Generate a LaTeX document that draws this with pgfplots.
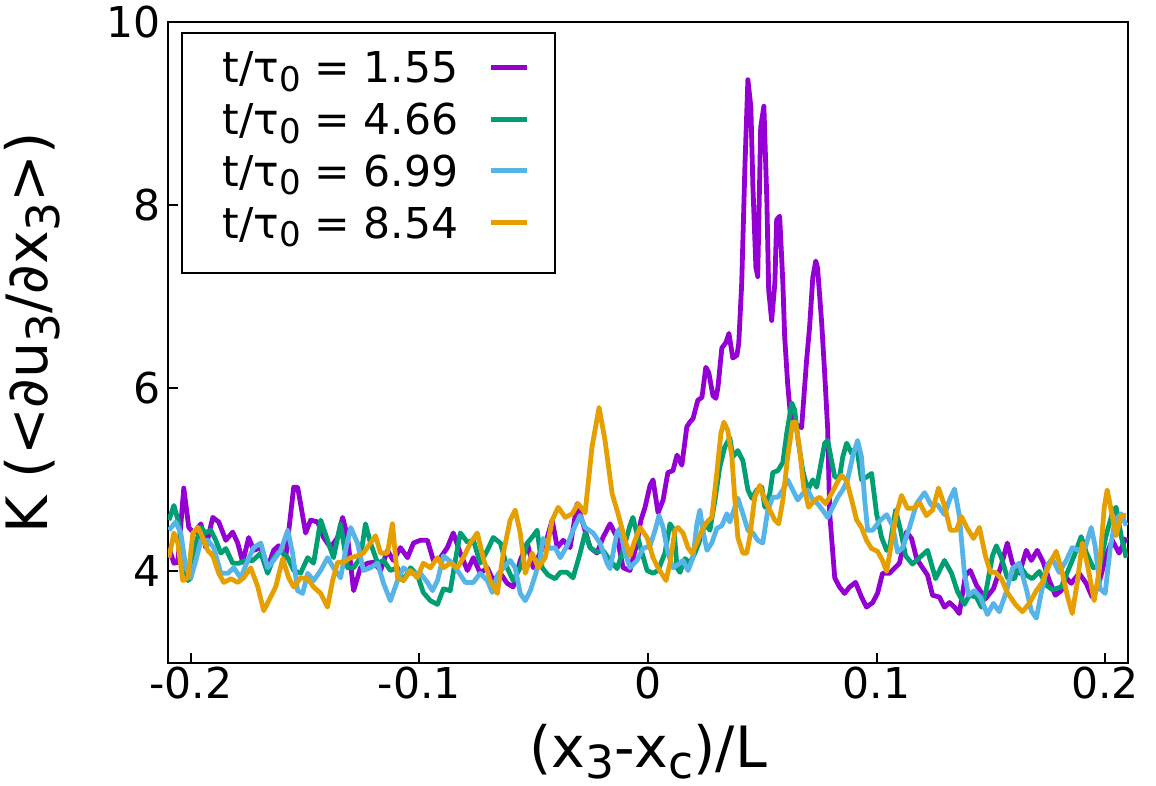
\documentclass[border=0pt]{standalone}
\usepackage{fontspec}
\setmainfont{DejaVu Sans}
\usepackage{pgfplots}
\pgfplotsset{compat=1.18}
\definecolor{cP}{HTML}{9400D3}
\definecolor{cG}{HTML}{009E73}
\definecolor{cB}{HTML}{56B4E9}
\definecolor{cO}{HTML}{E69F00}
\newcommand{\sub}[1]{\raisebox{-0.2em}{\scalebox{0.8}{#1}}}
\begin{document}
\begin{tikzpicture}
\useasboundingbox (0,0) rectangle (578pt,393pt);
\begin{axis}[
  at={(84pt,61.5pt)}, anchor=south west,
  scale only axis, width=480pt, height=320.5pt,
  xmin=-0.21, xmax=0.21, ymin=3, ymax=10,
  xtick={-0.2,-0.1,0,0.1,0.2},
  xticklabels={-0.2,-0.1,0,0.1,0.2},
  ytick={4,6,8,10},
  yticklabels={4,6,8,10},
  tick align=inside, tick pos=left,
  major tick length=5pt,
  every tick/.style={black, line width=1pt},
  axis line style={line width=1pt},
  ticklabel style={font=\fontsize{21.25pt}{25pt}\selectfont},
  xticklabel style={yshift=1.5pt},
  label style={font=\fontsize{28.5pt}{34pt}\selectfont},
  xlabel={(x\sub{3}-x\sub{c})/L},
  ylabel={K (<∂u\sub{3}/∂x\sub{3}>)},
  xlabel style={at={(axis description cs:0.5,-0.1625)}, anchor=base},
  ylabel style={at={(axis description cs:-0.125,0.515)}, anchor=base, rotate=0},
  legend plot pos=right,
  legend cell align=right,
  legend image code/.code={\draw[#1] (0pt,4pt) -- (18pt,4pt);},
  legend style={at={(axis description cs:0,1)}, anchor=north west,
    xshift=6.5pt, yshift=-5pt, draw=black, line width=1pt,
    inner xsep=13pt, inner ysep=8.3pt, row sep=0pt, column sep=15pt,
    font=\fontsize{21.25pt}{25pt}\selectfont,
    nodes={inner sep=0pt, text height=16.7pt, text depth=9.15pt}},
  every axis plot/.append style={line width=2.4pt, line join=round},
]
\addplot[cP] coordinates {
(-0.2096,4.26)(-0.2074,4.09)(-0.2057,4.10)(-0.2031,4.91)(-0.2009,4.48)(-0.1987,4.42)(-0.1956,4.52)(-0.1935,4.26)(-0.1904,4.59)(-0.1878,4.54)
(-0.1847,4.34)(-0.1817,4.43)(-0.1795,4.31)(-0.1773,4.10)(-0.1747,4.37)(-0.1725,4.23)(-0.1694,4.26)(-0.1664,4.04)(-0.1638,4.23)(-0.1616,4.28)
(-0.1585,4.15)(-0.1550,4.92)(-0.1533,4.92)(-0.1520,4.74)(-0.1498,4.42)(-0.1476,4.56)(-0.1445,4.54)(-0.1419,4.37)(-0.1389,4.26)(-0.1358,4.37)
(-0.1336,4.59)(-0.1314,4.37)(-0.1288,3.79)(-0.1258,4.04)(-0.1227,4.09)(-0.1201,4.10)(-0.1170,4.01)(-0.1140,4.23)(-0.1114,4.12)(-0.1083,4.26)
(-0.1052,4.15)(-0.1026,4.31)(-0.0996,4.34)(-0.0965,4.34)(-0.0939,4.12)(-0.0908,4.15)(-0.0878,4.26)(-0.0852,4.42)(-0.0821,4.20)(-0.0790,4.01)
(-0.0764,4.15)(-0.0734,3.98)(-0.0703,4.04)(-0.0677,3.90)(-0.0646,3.98)(-0.0616,3.87)(-0.0590,3.83)(-0.0559,4.12)(-0.0528,4.31)(-0.0502,4.04)
(-0.0472,4.20)(-0.0441,4.37)(-0.0419,4.56)(-0.0397,4.26)(-0.0371,4.34)(-0.0341,4.26)(-0.0310,4.74)(-0.0284,4.52)(-0.0253,4.26)(-0.0223,4.20)
(-0.0197,4.37)(-0.0166,4.52)(-0.0135,4.37)(-0.0109,4.04)(-0.0079,4.01)(-0.0048,4.31)(-0.0031,4.56)(-0.0013,4.70)(0.0009,4.94)(0.0022,5.00)
(0.0044,4.64)(0.0066,4.78)(0.0087,5.08)(0.0109,5.10)(0.0127,5.27)(0.0148,5.16)(0.0170,5.58)(0.0183,5.63)(0.0197,5.67)(0.0218,5.87)
(0.0236,5.90)(0.0253,6.23)(0.0266,6.17)(0.0284,5.92)(0.0297,5.89)(0.0306,6.01)(0.0323,6.44)(0.0341,6.50)(0.0354,6.60)(0.0371,6.33)
(0.0389,6.36)(0.0397,6.49)(0.0410,7.15)(0.0424,8.42)(0.0437,9.37)(0.0450,9.07)(0.0459,8.20)(0.0472,7.32)(0.0480,7.22)(0.0493,8.85)
(0.0507,9.08)(0.0520,8.05)(0.0528,7.07)(0.0541,6.74)(0.0555,7.15)(0.0563,7.84)(0.0576,7.88)(0.0590,7.15)(0.0598,6.56)(0.0611,6.05)
(0.0624,5.68)(0.0651,5.60)(0.0672,5.57)(0.0694,6.31)(0.0707,6.67)(0.0721,7.21)(0.0734,7.39)(0.0742,7.31)(0.0760,6.71)(0.0773,6.16)
(0.0786,5.56)(0.0795,4.63)(0.0817,3.93)(0.0838,3.83)(0.0860,3.76)(0.0882,3.83)(0.0908,3.88)(0.0934,3.72)(0.0956,3.61)(0.0983,3.66)
(0.1004,3.76)(0.1026,3.98)(0.1057,3.98)(0.1100,4.09)(0.1131,4.43)(0.1153,4.36)(0.1175,4.14)(0.1201,4.04)(0.1223,3.96)(0.1245,3.74)
(0.1275,3.72)(0.1297,3.61)(0.1319,3.66)(0.1341,3.61)(0.1362,3.54)(0.1389,3.96)(0.1410,4.01)(0.1437,3.85)(0.1476,3.70)(0.1511,3.81)
(0.1546,4.07)(0.1572,4.31)(0.1594,4.09)(0.1625,3.98)(0.1655,4.23)(0.1677,4.12)(0.1703,4.23)(0.1729,4.10)(0.1756,3.90)(0.1782,3.74)
(0.1808,3.79)(0.1830,3.93)(0.1852,3.87)(0.1886,3.98)(0.1917,3.87)(0.1943,3.72)(0.1969,3.83)(0.2004,4.17)(0.2031,4.34)(0.2061,4.20)
(0.2092,4.37)
};
\addlegendentry{\hspace*{7.5pt}t/τ\sub{0} = 1.55}
\addplot[cG] coordinates {
(-0.2096,4.56)(-0.2074,4.72)(-0.2052,4.52)(-0.2031,4.12)(-0.2013,3.90)(-0.2000,3.93)(-0.1978,4.31)(-0.1956,4.48)(-0.1935,4.42)(-0.1913,4.45)
(-0.1891,4.34)(-0.1869,4.20)(-0.1847,4.25)(-0.1817,4.09)(-0.1790,4.09)(-0.1760,4.12)(-0.1729,4.12)(-0.1694,4.20)(-0.1664,3.98)(-0.1638,4.15)
(-0.1607,4.23)(-0.1576,4.15)(-0.1550,4.01)(-0.1520,3.98)(-0.1489,4.15)(-0.1463,4.09)(-0.1432,4.56)(-0.1402,4.34)(-0.1376,4.15)(-0.1345,4.52)
(-0.1314,4.04)(-0.1288,4.04)(-0.1258,4.15)(-0.1236,4.52)(-0.1214,4.31)(-0.1183,4.09)(-0.1157,4.12)(-0.1127,4.01)(-0.1096,4.04)(-0.1070,3.90)
(-0.1039,4.04)(-0.1009,3.96)(-0.0983,3.77)(-0.0952,3.68)(-0.0921,3.64)(-0.0895,3.81)(-0.0865,3.79)(-0.0843,4.12)(-0.0821,4.42)(-0.0790,4.32)
(-0.0764,4.34)(-0.0734,4.09)(-0.0703,4.23)(-0.0677,4.37)(-0.0646,4.31)(-0.0616,4.04)(-0.0590,3.90)(-0.0559,4.04)(-0.0528,4.31)(-0.0502,4.39)
(-0.0485,4.45)(-0.0463,4.04)(-0.0437,3.96)(-0.0406,3.92)(-0.0384,3.99)(-0.0354,3.99)(-0.0328,3.93)(-0.0297,4.20)(-0.0275,4.42)(-0.0253,4.26)
(-0.0223,4.21)(-0.0197,4.23)(-0.0166,4.12)(-0.0135,4.03)(-0.0109,4.23)(-0.0079,4.50)(-0.0066,4.59)(-0.0035,4.28)(-0.0004,4.01)(0.0022,3.98)
(0.0044,4.01)(0.0074,4.20)(0.0096,4.52)(0.0114,4.45)(0.0127,4.04)(0.0140,3.99)(0.0162,4.14)(0.0183,4.09)(0.0205,4.20)(0.0227,4.34)
(0.0249,4.52)(0.0271,4.45)(0.0293,4.78)(0.0314,5.14)(0.0336,5.36)(0.0358,5.46)(0.0371,5.25)(0.0393,5.32)(0.0415,5.21)(0.0437,4.89)
(0.0454,4.80)(0.0476,4.89)(0.0498,4.92)(0.0511,4.70)(0.0533,4.85)(0.0546,5.08)(0.0568,5.10)(0.0590,5.19)(0.0607,5.51)(0.0629,5.84)
(0.0642,5.76)(0.0655,5.46)(0.0677,5.10)(0.0699,4.89)(0.0721,5.00)(0.0738,4.92)(0.0751,5.10)(0.0773,5.40)(0.0786,5.43)(0.0803,5.21)
(0.0817,5.03)(0.0838,5.03)(0.0852,5.25)(0.0869,5.40)(0.0891,5.29)(0.0913,5.36)(0.0934,5.00)(0.0956,5.03)(0.0978,5.07)(0.1000,4.63)
(0.1022,4.37)(0.1044,4.23)(0.1057,4.26)(0.1083,4.67)(0.1105,4.45)(0.1127,4.17)(0.1157,4.08)(0.1188,4.15)(0.1223,4.23)(0.1258,3.92)
(0.1297,4.12)(0.1328,3.98)(0.1354,3.78)(0.1384,3.64)(0.1406,3.74)(0.1437,3.72)(0.1459,3.61)(0.1480,3.80)(0.1507,4.17)(0.1524,4.28)
(0.1546,4.15)(0.1572,3.93)(0.1603,3.92)(0.1624,4.07)(0.1655,3.96)(0.1681,3.92)(0.1712,4.00)(0.1742,3.85)(0.1769,3.80)(0.1808,3.83)
(0.1838,4.01)(0.1869,4.20)(0.1895,4.38)(0.1917,4.21)(0.1948,4.04)(0.1978,4.07)(0.2004,4.39)(0.2035,4.67)(0.2048,4.70)(0.2070,4.39)
(0.2092,4.15)
};
\addlegendentry{\hspace*{7.5pt}t/τ\sub{0} = 4.66}
\addplot[cB] coordinates {
(-0.2096,4.45)(-0.2066,4.54)(-0.2044,4.42)(-0.2022,4.04)(-0.2000,3.93)(-0.1978,4.12)(-0.1956,4.34)(-0.1926,4.34)(-0.1900,4.26)(-0.1869,3.98)
(-0.1838,3.98)(-0.1812,4.04)(-0.1782,3.93)(-0.1751,4.12)(-0.1725,4.26)(-0.1694,4.31)(-0.1664,4.04)(-0.1638,4.12)(-0.1607,4.23)(-0.1576,4.45)
(-0.1555,4.20)(-0.1533,3.79)(-0.1511,3.76)(-0.1489,3.98)(-0.1463,3.90)(-0.1432,4.01)(-0.1402,4.15)(-0.1376,4.04)(-0.1345,3.93)(-0.1323,4.23)
(-0.1301,4.48)(-0.1271,4.31)(-0.1245,4.01)(-0.1214,4.04)(-0.1183,4.09)(-0.1157,3.87)(-0.1127,3.68)(-0.1096,3.90)(-0.1070,4.04)(-0.1039,3.98)
(-0.0996,3.98)(-0.0965,3.88)(-0.0943,3.79)(-0.0921,3.90)(-0.0895,4.17)(-0.0856,4.09)(-0.0834,4.01)(-0.0799,3.88)(-0.0764,3.88)(-0.0734,3.98)
(-0.0703,3.90)(-0.0681,3.77)(-0.0659,3.96)(-0.0633,4.04)(-0.0603,4.12)(-0.0581,4.04)(-0.0559,3.76)(-0.0537,3.68)(-0.0515,3.79)(-0.0493,3.96)
(-0.0472,4.15)(-0.0459,4.36)(-0.0428,4.25)(-0.0406,4.26)(-0.0384,4.15)(-0.0354,4.28)(-0.0328,4.45)(-0.0297,4.61)(-0.0275,4.48)(-0.0240,4.42)
(-0.0210,4.31)(-0.0179,4.09)(-0.0166,4.03)(-0.0135,4.43)(-0.0122,4.47)(-0.0100,4.20)(-0.0079,4.04)(-0.0048,4.12)(-0.0022,4.25)(0.0009,4.28)
(0.0031,4.45)(0.0048,4.61)(0.0066,4.48)(0.0087,4.20)(0.0109,4.04)(0.0140,4.09)(0.0153,4.12)(0.0175,4.01)(0.0197,4.15)(0.0214,4.52)
(0.0227,4.67)(0.0240,4.45)(0.0258,4.23)(0.0279,4.31)(0.0301,4.47)(0.0323,4.50)(0.0345,4.63)(0.0358,4.54)(0.0380,4.70)(0.0393,4.80)
(0.0415,4.63)(0.0437,4.45)(0.0459,4.42)(0.0480,4.34)(0.0502,4.31)(0.0524,4.67)(0.0546,4.81)(0.0568,4.81)(0.0590,4.89)(0.0611,5.00)
(0.0633,4.89)(0.0655,4.78)(0.0677,4.85)(0.0699,4.89)(0.0721,4.78)(0.0742,4.74)(0.0764,4.67)(0.0786,4.59)(0.0808,4.70)(0.0830,4.81)
(0.0852,4.89)(0.0873,5.00)(0.0895,5.25)(0.0917,5.43)(0.0934,5.25)(0.0948,4.78)(0.0961,4.45)(0.0983,4.45)(0.1013,4.55)(0.1044,4.62)
(0.1070,4.50)(0.1092,4.21)(0.1114,4.26)(0.1144,4.48)(0.1175,4.74)(0.1210,4.86)(0.1240,4.72)(0.1266,4.73)(0.1297,4.62)(0.1319,4.78)
(0.1341,4.90)(0.1362,4.61)(0.1384,3.99)(0.1402,3.74)(0.1428,3.79)(0.1454,3.72)(0.1485,3.53)(0.1511,3.65)(0.1537,3.56)(0.1568,3.78)
(0.1594,4.03)(0.1624,4.09)(0.1655,3.81)(0.1677,3.57)(0.1699,3.49)(0.1720,3.76)(0.1747,4.07)(0.1769,4.14)(0.1799,3.99)(0.1830,4.12)
(0.1856,4.26)(0.1882,4.23)(0.1913,4.26)(0.1939,4.48)(0.1956,4.28)(0.1978,3.81)(0.2000,3.76)(0.2022,4.25)(0.2044,4.56)(0.2070,4.63)
(0.2092,4.50)
};
\addlegendentry{\hspace*{7.5pt}t/τ\sub{0} = 6.99}
\addplot[cO] coordinates {
(-0.2096,4.15)(-0.2074,4.42)(-0.2057,4.31)(-0.2035,3.90)(-0.2013,3.93)(-0.1991,4.42)(-0.1969,4.48)(-0.1948,4.37)(-0.1926,4.23)(-0.1904,4.17)
(-0.1878,3.98)(-0.1856,3.88)(-0.1825,3.92)(-0.1795,3.88)(-0.1769,3.93)(-0.1738,4.04)(-0.1707,3.83)(-0.1681,3.57)(-0.1659,3.68)(-0.1629,3.83)
(-0.1598,4.14)(-0.1572,3.93)(-0.1550,3.83)(-0.1520,3.93)(-0.1489,3.92)(-0.1463,3.83)(-0.1432,3.76)(-0.1402,3.61)(-0.1380,3.90)(-0.1358,4.10)
(-0.1332,4.10)(-0.1301,4.15)(-0.1271,4.17)(-0.1245,4.20)(-0.1214,4.31)(-0.1192,4.39)(-0.1170,4.20)(-0.1140,4.20)(-0.1118,4.52)(-0.1096,3.93)
(-0.1070,3.90)(-0.1039,4.01)(-0.1009,3.93)(-0.0983,4.09)(-0.0952,4.04)(-0.0921,4.15)(-0.0895,4.04)(-0.0865,4.09)(-0.0834,4.04)(-0.0808,4.15)
(-0.0777,4.31)(-0.0747,4.42)(-0.0721,4.15)(-0.0690,3.90)(-0.0659,3.76)(-0.0633,4.20)(-0.0603,4.56)(-0.0581,4.67)(-0.0559,4.42)(-0.0537,3.98)
(-0.0507,4.20)(-0.0480,4.04)(-0.0450,4.15)(-0.0419,4.56)(-0.0393,4.70)(-0.0362,4.59)(-0.0332,4.63)(-0.0306,4.74)(-0.0275,4.64)(-0.0245,5.36)
(-0.0214,5.79)(-0.0188,5.43)(-0.0157,4.85)(-0.0131,4.63)(-0.0100,4.34)(-0.0079,4.17)(-0.0057,4.34)(-0.0035,4.48)(-0.0004,4.37)(0.0022,4.15)
(0.0044,4.04)(0.0079,3.90)(0.0096,4.09)(0.0118,4.45)(0.0131,4.48)(0.0153,4.42)(0.0175,4.26)(0.0192,4.20)(0.0214,4.31)(0.0236,4.45)
(0.0258,4.54)(0.0279,4.59)(0.0301,5.07)(0.0319,5.51)(0.0332,5.63)(0.0349,5.54)(0.0367,5.25)(0.0380,4.78)(0.0393,4.37)(0.0415,4.20)
(0.0432,4.20)(0.0445,4.37)(0.0467,4.81)(0.0489,4.94)(0.0511,4.78)(0.0533,4.67)(0.0555,4.56)(0.0572,4.52)(0.0590,4.78)(0.0611,5.25)
(0.0633,5.63)(0.0646,5.63)(0.0664,5.32)(0.0681,4.92)(0.0703,4.70)(0.0729,4.78)(0.0751,4.81)(0.0777,4.74)(0.0803,4.85)(0.0825,4.96)
(0.0847,5.05)(0.0869,4.99)(0.0891,4.78)(0.0913,4.56)(0.0934,4.48)(0.0956,4.34)(0.0978,4.25)(0.1004,4.22)(0.1026,4.12)(0.1044,4.00)
(0.1066,4.32)(0.1087,4.63)(0.1109,4.83)(0.1135,4.69)(0.1162,4.69)(0.1188,4.75)(0.1218,4.61)(0.1245,4.67)(0.1271,4.91)(0.1297,4.72)
(0.1323,4.45)(0.1349,4.45)(0.1371,4.60)(0.1397,4.47)(0.1424,4.36)(0.1450,4.48)(0.1476,4.17)(0.1498,3.99)(0.1520,3.99)(0.1546,3.92)
(0.1572,3.77)(0.1607,3.64)(0.1638,3.56)(0.1668,3.65)(0.1699,3.79)(0.1725,3.88)(0.1755,4.07)(0.1786,4.22)(0.1812,3.99)(0.1834,3.74)
(0.1856,3.54)(0.1878,3.88)(0.1900,4.31)(0.1921,4.09)(0.1952,3.68)(0.1974,4.01)(0.1996,4.70)(0.2009,4.89)(0.2031,4.61)(0.2048,4.39)
(0.2070,4.61)(0.2092,4.61)
};
\addlegendentry{\hspace*{7.5pt}t/τ\sub{0} = 8.54}
\end{axis}
\end{tikzpicture}
\end{document}
